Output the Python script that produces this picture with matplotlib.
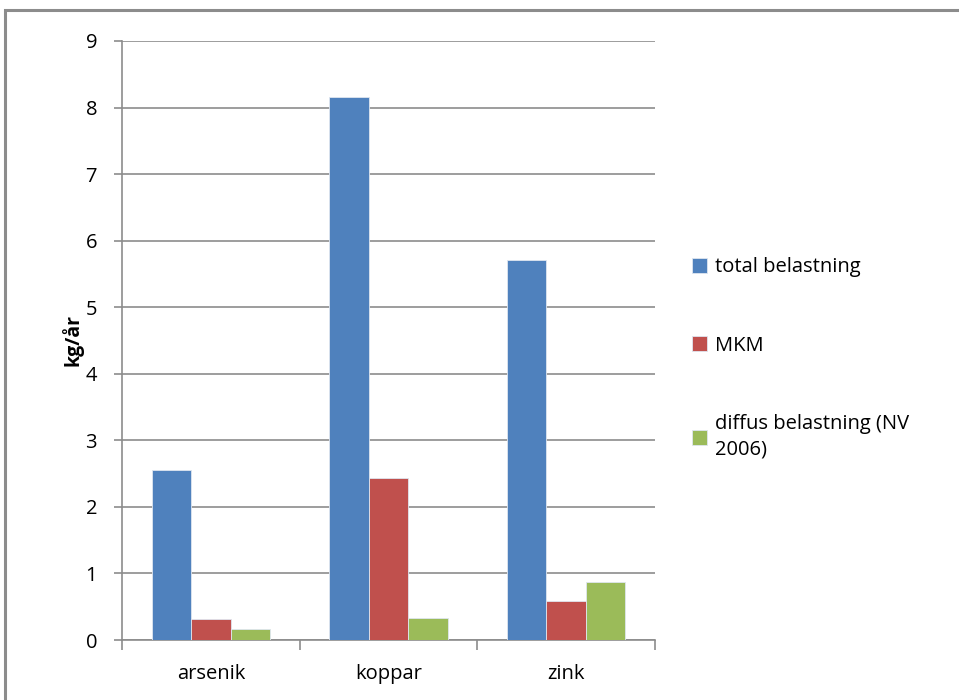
import numpy as np
import matplotlib
matplotlib.use('Agg')
import matplotlib.pyplot as plt
from matplotlib.patches import Rectangle

# Data
categories = ['arsenik', 'koppar', 'zink']
series_names = ['total belastning', 'MKM', 'diffus belastning (NV\n2006)']
total = [2.56, 8.16, 5.71]
mkm = [0.31, 2.44, 0.58]
diffus = [0.16, 0.33, 0.87]
colors = ['#4F81BD', '#C0504D', '#9BBB59']

plt.rcParams['font.family'] = ['Open Sans', 'DejaVu Sans']

fig = plt.figure(figsize=(9.59, 7.0), dpi=100)
ax = fig.add_axes([122/959, 60/700, (655-122)/959, (640-41)/700])

# outer chart frame (only top / left visible)
fig.patches.append(Rectangle((5/959, -0.1), 1.2, 690/700 + 0.1, transform=fig.transFigure,
                             fill=False, edgecolor='#8c8c8c', linewidth=2.2))

x = np.arange(len(categories))
width = 1 / 4.5
for i, (vals, name) in enumerate(zip([total, mkm, diffus], series_names)):
    ax.bar(x + (i - 1) * width, vals, width, color=colors[i], label=name,
           edgecolor='#dfe6f0', linewidth=0.6, zorder=3)

ax.set_xlim(-0.5, 2.5)
ax.set_ylim(0, 9)
ax.set_yticks(np.arange(0, 10, 1))
ax.yaxis.grid(True, color='#8c8c8c', linewidth=1.2, zorder=0)
ax.set_xticks(x)
ax.set_xticklabels(categories, fontsize=14.5)
ax.set_xticks(np.arange(-0.5, 3.0, 1), minor=True)
ax.tick_params(axis='x', which='major', length=0, pad=17)
ax.tick_params(axis='x', which='minor', length=7, color='#8c8c8c', width=1.2)
ax.tick_params(axis='y', length=6, color='#8c8c8c', width=1.2, labelsize=14.5, pad=12)
for s in ['top', 'right']:
    ax.spines[s].set_visible(False)
for s in ['left', 'bottom']:
    ax.spines[s].set_color('#8c8c8c')
    ax.spines[s].set_linewidth(1.2)

ax.set_ylabel('kg/år', fontsize=14, fontweight='bold', labelpad=1)

leg = ax.legend(loc='center left', bbox_to_anchor=(1.035, 0.47), frameon=False,
                fontsize=14.5, handlelength=0.75, handleheight=0.75, handletextpad=0.4,
                labelspacing=2.9)
for t in leg.get_texts():
    t.set_linespacing(1.35)

fig.savefig('out.png', dpi=100)
